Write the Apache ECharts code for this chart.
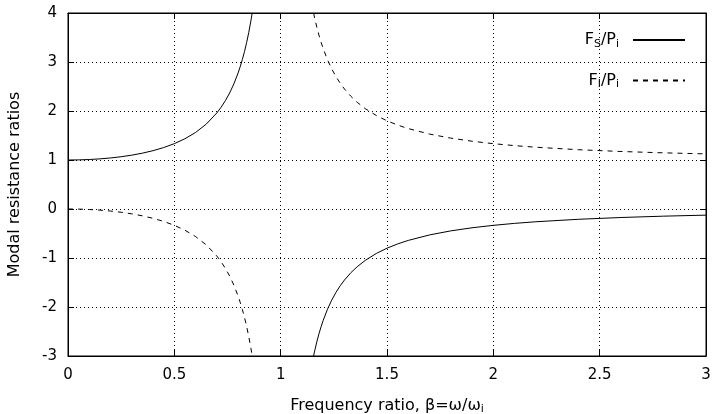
<!DOCTYPE html>
<html><head><meta charset="utf-8">
<script src="https://cdn.jsdelivr.net/npm/echarts@6/dist/echarts.min.js"></script>
<style>html,body{margin:0;padding:0;background:#fff}#c{width:715px;height:414px}</style>
</head><body><div id="c"></div>
<script>
// Values
var xTicks = [0, 0.5, 1, 1.5, 2, 2.5, 3];
var yTicks = [-3, -2, -1, 0, 1, 2, 3, 4];

var betaLow = [0, 0.05, 0.1, 0.15, 0.2, 0.25, 0.3, 0.35, 0.4, 0.45, 0.5, 0.55, 0.6, 0.65, 0.7, 0.72, 0.74, 0.76, 0.78, 0.8, 0.81, 0.82, 0.83, 0.84, 0.85, 0.86, 0.866];
var fsLow   = [1, 1.0025, 1.0101, 1.023, 1.0417, 1.0667, 1.0989, 1.1396, 1.1905, 1.2539, 1.3333, 1.4337, 1.5625, 1.7316, 1.9608, 2.0764, 2.2104, 2.3674, 2.5536, 2.7778, 2.9078, 3.0525, 3.2144, 3.3967, 3.6036, 3.8402, 4.0];
var fiLow   = [0, -0.0025, -0.0101, -0.023, -0.0417, -0.0667, -0.0989, -0.1396, -0.1905, -0.2539, -0.3333, -0.4337, -0.5625, -0.7316, -0.9608, -1.0764, -1.2104, -1.3674, -1.5536, -1.7778, -1.9078, -2.0525, -2.2144, -2.3967, -2.6036, -2.8402, -3.0];

var betaHigh = [1.1547, 1.16, 1.17, 1.18, 1.19, 1.2, 1.22, 1.24, 1.26, 1.28, 1.3, 1.33, 1.36, 1.4, 1.45, 1.5, 1.55, 1.6, 1.7, 1.8, 1.9, 2.0, 2.1, 2.2, 2.4, 2.6, 2.8, 3.0];
var fsHigh   = [-3.0, -2.8935, -2.7108, -2.5484, -2.4033, -2.2727, -2.0475, -1.8601, -1.7018, -1.5664, -1.4493, -1.3006, -1.177, -1.0417, -0.907, -0.8, -0.713, -0.641, -0.5291, -0.4464, -0.3831, -0.3333, -0.2933, -0.2604, -0.2101, -0.1736, -0.1462, -0.125];
var fiHigh   = [4.0, 3.8935, 3.7108, 3.5484, 3.4033, 3.2727, 3.0475, 2.8601, 2.7018, 2.5664, 2.4493, 2.3006, 2.177, 2.0417, 1.907, 1.8, 1.713, 1.641, 1.5291, 1.4464, 1.3831, 1.3333, 1.2933, 1.2604, 1.2101, 1.1736, 1.1462, 1.125];

function pairs(xs, ys) { return xs.map(function (x, i) { return [x, ys[i]]; }); }

var FONT = 'DejaVu Sans';
var chart = echarts.init(document.getElementById('c'), null, {renderer: 'canvas'});
var richSub = {
  sub: {fontSize: 11, fontFamily: FONT, color: '#000', padding: [8, 0, 0, 0]}
};
var nameS = 'FS', nameI = 'FI';
var solid = {color: '#000', width: 1, type: 'solid'};
var dashed = {color: '#000', width: 1, type: [5, 5]};

function mkSeries(name, data, ls) {
  return {
    name: name, type: 'line', data: data, showSymbol: false, symbol: 'none',
    smooth: false, lineStyle: ls, itemStyle: {color: '#000'},
    clip: true, animation: false, z: 3
  };
}

var option = {
  animation: false,
  backgroundColor: '#fff',
  textStyle: {fontFamily: FONT},
  grid: {left: 68, right: 9, top: 13, bottom: 58, show: true, borderColor: '#000', borderWidth: 1,
         containLabel: false, outerBoundsMode: 'none'},
  legend: {
    orient: 'vertical', right: 24, top: 27, align: 'right',
    itemWidth: 52, itemHeight: 14, itemGap: 23,
    data: [nameS, nameI],
    itemStyle: {opacity: 0},
    formatter: function (n) {
      return n === nameS ? 'F{sub|S}/P{sub|i}' : 'F{sub|I}/P{sub|i}';
    },
    textStyle: {fontFamily: FONT, fontSize: 16, color: '#000', rich: richSub, padding: [0, 9, 0, 0]},
    inactiveColor: '#000'
  },
  xAxis: [{
    type: 'value', min: 0, max: 3, interval: 0.5,
    name: 'Frequency ratio, β=ω/ω{sub|i}', nameLocation: 'middle', nameGap: 40,
    nameTextStyle: {fontFamily: FONT, fontSize: 16, color: '#000', rich: richSub},
    axisLine: {show: true, onZero: false, lineStyle: {color: '#000', width: 1}},
    axisTick: {show: true, inside: true, length: 6, lineStyle: {color: '#000'}},
    axisLabel: {color: '#000', fontSize: 15, fontFamily: FONT, margin: 12,
      formatter: function (v) { return String(v); }},
    splitLine: {show: true, lineStyle: {color: '#000', width: 1, type: [1, 3]}}
  }, {
    type: 'value', min: 0, max: 3, interval: 0.5, position: 'top',
    axisLine: {show: true, onZero: false, lineStyle: {color: '#000'}},
    axisTick: {show: true, inside: true, length: 6, lineStyle: {color: '#000'}},
    axisLabel: {show: false}, splitLine: {show: false}
  }],
  yAxis: [{
    type: 'value', min: -3, max: 4, interval: 1,
    name: 'Modal resistance ratios', nameLocation: 'middle', nameGap: 45, nameRotate: 90,
    nameTextStyle: {fontFamily: FONT, fontSize: 16, color: '#000'},
    axisLine: {show: true, onZero: false, lineStyle: {color: '#000', width: 1}},
    axisTick: {show: true, inside: true, length: 6, lineStyle: {color: '#000'}},
    axisLabel: {color: '#000', fontSize: 15, fontFamily: FONT, margin: 11},
    splitLine: {show: true, lineStyle: {color: '#000', width: 1, type: [1, 3]}}
  }, {
    type: 'value', min: -3, max: 4, interval: 1, position: 'right',
    axisLine: {show: true, onZero: false, lineStyle: {color: '#000'}},
    axisTick: {show: true, inside: true, length: 6, lineStyle: {color: '#000'}},
    axisLabel: {show: false}, splitLine: {show: false}
  }],
  series: [
    mkSeries(nameS, pairs(betaLow, fsLow), solid),
    mkSeries(nameS, pairs(betaHigh, fsHigh), solid),
    mkSeries(nameI, pairs(betaLow, fiLow), dashed),
    mkSeries(nameI, pairs(betaHigh, fiHigh), dashed)
  ]
};
chart.setOption(option);
</script>
</body></html>
